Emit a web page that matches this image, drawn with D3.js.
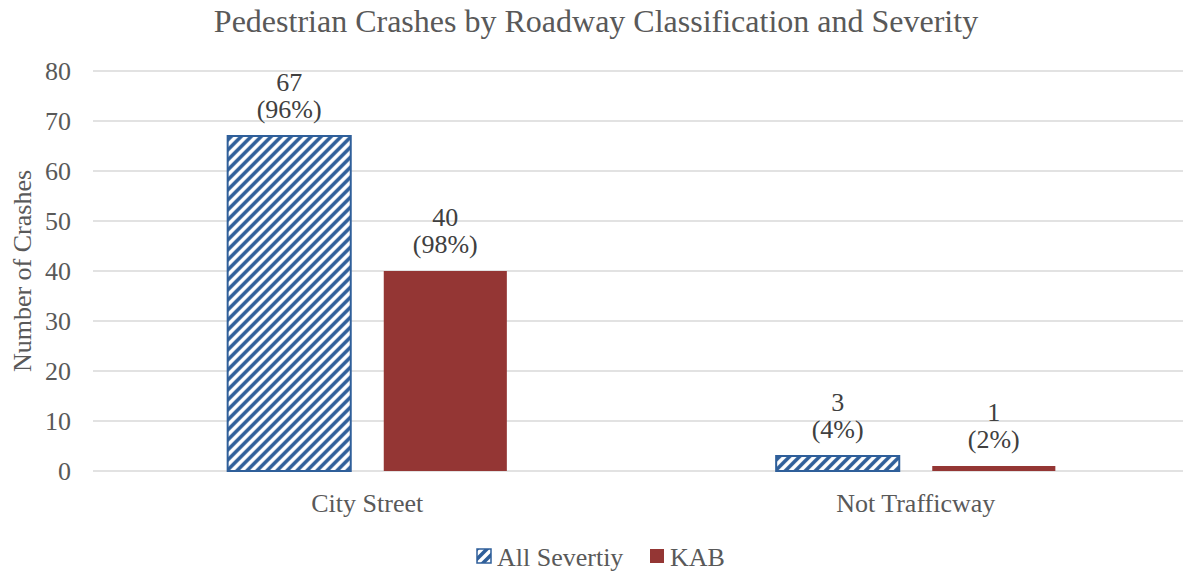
<!DOCTYPE html>
<html>
<head>
<meta charset="utf-8">
<script src="https://cdn.jsdelivr.net/npm/d3@7"></script>
<style>
  body { margin: 0; background: #fff; }
  svg { display: block; font-family: "Liberation Serif", "Times New Roman", serif; }
</style>
</head>
<body>
<svg id="chart" width="1183" height="573"></svg>
<script>
// Chart data
var categories = ["City Street", "Not Trafficway"];
var seriesNames = ["All Severtiy", "KAB"];
var allSeverity = [67, 3];
var kab = [40, 1];
var allSeverityPct = ["96%", "4%"];
var kabPct = ["98%", "2%"];
var yTicks = [0, 10, 20, 30, 40, 50, 60, 70, 80];

var svg = d3.select("#chart");

// Plot area (the right edge runs past the picture, as in the reference)
var plotLeft = 93, plotRight = 1190, plotTop = 71, plotBottom = 471;

var x0 = d3.scaleBand().domain(categories).range([plotLeft, plotRight])
    .paddingInner(0.491).paddingOuter(0.2455);
var x1 = d3.scaleBand().domain(seriesNames).range([0, x0.bandwidth()])
    .paddingInner(0.2115).paddingOuter(0);
var y = d3.scaleLinear().domain([0, 80]).range([plotBottom, plotTop]);

// Hatch pattern for the "All Severtiy" bars
var defs = svg.append("defs");
var pat = defs.append("pattern")
    .attr("id", "hatch")
    .attr("patternUnits", "userSpaceOnUse")
    .attr("width", 10).attr("height", 10);
pat.append("rect").attr("width", 10).attr("height", 10).attr("fill", "#fff");
pat.append("path")
    .attr("d", "M-3,3 L3,-3 M0,10 L10,0 M7,13 L13,7")
    .attr("stroke", "#2f5f9a")
    .attr("stroke-width", 3.6);

// Gridlines
svg.append("g").selectAll("line")
    .data(yTicks)
    .enter().append("line")
    .attr("x1", plotLeft).attr("x2", plotRight)
    .attr("y1", function(d) { return y(d); })
    .attr("y2", function(d) { return y(d); })
    .attr("stroke", "#d9d9d9")
    .attr("stroke-width", 1.5);

// Y axis tick labels
var yAxis = d3.axisLeft(y).tickValues(yTicks).tickSize(0).tickPadding(22);
var yg = svg.append("g").attr("transform", "translate(" + plotLeft + ",0)").call(yAxis);
yg.select(".domain").remove();
yg.selectAll("text")
    .attr("font-family", "Liberation Serif, serif")
    .attr("font-size", 26)
    .attr("fill", "#595959");

// X axis category labels
var xAxis = d3.axisBottom(x0).tickSize(0).tickPadding(23);
var xg = svg.append("g").attr("transform", "translate(0," + plotBottom + ")").call(xAxis);
xg.select(".domain").remove();
xg.selectAll("text")
    .attr("font-family", "Liberation Serif, serif")
    .attr("font-size", 26)
    .attr("fill", "#595959");

// Bars
var rows = categories.map(function(c, i) {
    return [
        {cat: c, series: seriesNames[0], value: allSeverity[i], pct: allSeverityPct[i]},
        {cat: c, series: seriesNames[1], value: kab[i], pct: kabPct[i]}
    ];
});

var groups = svg.append("g").selectAll("g")
    .data(rows)
    .enter().append("g")
    .attr("transform", function(d) { return "translate(" + x0(d[0].cat) + ",0)"; });

groups.selectAll("rect")
    .data(function(d) { return d; })
    .enter().append("rect")
    .attr("x", function(d) { return x1(d.series); })
    .attr("width", x1.bandwidth())
    .attr("y", function(d) { return y(d.value); })
    .attr("height", function(d) { return y(0) - y(d.value); })
    .attr("fill", function(d) { return d.series === seriesNames[0] ? "url(#hatch)" : "#943634"; })
    .attr("stroke", function(d) { return d.series === seriesNames[0] ? "#2f5f9a" : "none"; })
    .attr("stroke-width", 2);

// Data labels: value on one line, share in parentheses below
var labels = groups.selectAll("text.lbl")
    .data(function(d) { return d; })
    .enter().append("text")
    .attr("class", "lbl")
    .attr("text-anchor", "middle")
    .attr("font-size", 26)
    .attr("fill", "#404040");
labels.append("tspan")
    .attr("x", function(d) { return x1(d.series) + x1.bandwidth() / 2; })
    .attr("y", function(d) { return y(d.value) - 45; })
    .text(function(d) { return d.value; });
labels.append("tspan")
    .attr("x", function(d) { return x1(d.series) + x1.bandwidth() / 2; })
    .attr("y", function(d) { return y(d.value) - 18; })
    .text(function(d) { return "(" + d.pct + ")"; });

// Title
svg.append("text")
    .attr("x", 596).attr("y", 32)
    .attr("text-anchor", "middle")
    .attr("font-size", 32)
    .attr("fill", "#595959")
    .text("Pedestrian Crashes by Roadway Classification and Severity");

// Y axis title
svg.append("text")
    .attr("transform", "translate(31," + ((plotTop + plotBottom) / 2) + ") rotate(-90)")
    .attr("text-anchor", "middle")
    .attr("font-size", 26)
    .attr("fill", "#595959")
    .text("Number of Crashes");

// Legend
var legendItems = [
    {name: seriesNames[0], fill: "url(#hatch)", stroke: "#2f5f9a", x: 477},
    {name: seriesNames[1], fill: "#943634", stroke: "none", x: 650}
];
var leg = svg.append("g").selectAll("g")
    .data(legendItems)
    .enter().append("g")
    .attr("transform", function(d) { return "translate(" + d.x + ",549)"; });
leg.append("rect")
    .attr("width", 14).attr("height", 14)
    .attr("fill", function(d) { return d.fill; })
    .attr("stroke", function(d) { return d.stroke; })
    .attr("stroke-width", 1.5);
leg.append("text")
    .attr("x", 20).attr("y", 17)
    .attr("font-size", 26)
    .attr("fill", "#595959")
    .text(function(d) { return d.name; });
</script>
</body>
</html>
